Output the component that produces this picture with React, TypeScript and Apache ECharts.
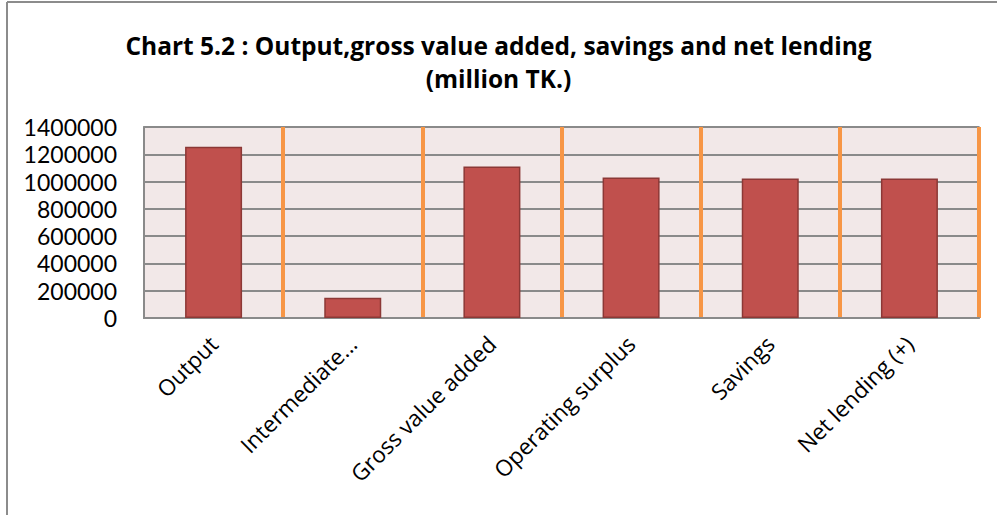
import React, { useEffect, useRef } from "react";
import * as echarts from "echarts";

const categories = [
  "Output",
  "Intermediate...",
  "Gross value added",
  "Operating surplus",
  "Savings",
  "Net lending (+)",
];
const values = [1256000, 149000, 1111000, 1029000, 1022000, 1022000];
const yTicks = [0, 200000, 400000, 600000, 800000, 1000000, 1200000, 1400000];
const titleLines = [
  "Chart 5.2 : Output,gross value added, savings and net lending",
  "(million TK.)",
];

export default function App() {
  const ref = useRef<HTMLDivElement>(null);
  useEffect(() => {
    document.body.style.margin = "0";
    const chart = echarts.init(ref.current!, undefined, { renderer: "svg" });
    const font = "'Open Sans', sans-serif";
    chart.setOption({
      animation: false,
      backgroundColor: "#ffffff",
      textStyle: { fontFamily: font },
      title: {
        text: titleLines.join("\n"),
        left: "center",
        top: 24,
        textStyle: {
          fontFamily: font,
          fontWeight: "bold",
          fontSize: 24.5,
          lineHeight: 33,
          color: "#000",
        },
      },
      graphic: [
        {
          type: "line",
          shape: { x1: 7, y1: 2, x2: 7, y2: 515 },
          style: { stroke: "#8c8c8c", lineWidth: 2 },
        },
        {
          type: "line",
          shape: { x1: 7, y1: 2, x2: 997, y2: 2 },
          style: { stroke: "#8c8c8c", lineWidth: 2 },
        },
      ],
      grid: {
        left: 144,
        right: 18,
        top: 127,
        bottom: 197,
        show: true,
        borderColor: "#8a8a8a",
        borderWidth: 1.5,
        containLabel: false,
      },
      xAxis: {
        type: "category",
        data: categories,
        boundaryGap: true,
        axisLine: { show: true, lineStyle: { color: "#8a8a8a", width: 2 } },
        axisTick: { show: false },
        axisLabel: {
          rotate: 45,
          interval: 0,
          fontSize: 22.5,
          color: "#000",
          fontFamily: font,
          margin: 22,
        },
        splitLine: {
          show: true,
          interval: (i: number) => i > 0,
          lineStyle: { color: "#F79646", width: 4 },
        },
      },
      yAxis: {
        type: "value",
        min: yTicks[0],
        max: yTicks[yTicks.length - 1],
        interval: yTicks[1] - yTicks[0],
        axisLine: { show: true, lineStyle: { color: "#8a8a8a", width: 2 } },
        axisTick: { show: false },
        axisLabel: {
          fontSize: 23,
          color: "#000",
          fontFamily: "Lato, sans-serif",
          margin: 27,
          formatter: (v: number) => String(v),
        },
        splitArea: { show: true, areaStyle: { color: ["#F2E8E8"] } },
        splitLine: {
          show: true,
          lineStyle: { color: "#8a8a8a", width: 2 },
        },
      },
      series: [
        {
          type: "bar",
          z: 3,
          data: values,
          barWidth: 57,
          itemStyle: {
            color: "#C0504D",
            borderColor: "#8C3836",
            borderWidth: 1.5,
          },
        },
      ],
    });
    return () => chart.dispose();
  }, []);
  return <div ref={ref} style={{ width: 997, height: 515 }} />;
}
